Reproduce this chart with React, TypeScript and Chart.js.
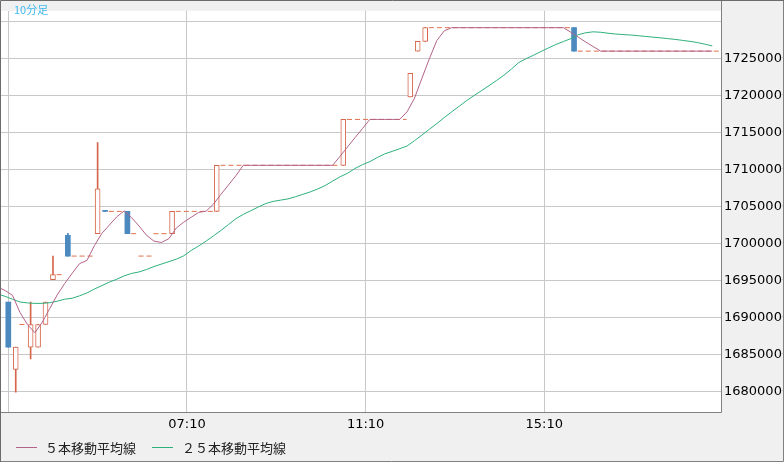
import React, { useEffect, useRef } from 'react';
import { Chart, registerables } from 'chart.js';

Chart.register(...registerables);

// ---------- data (bar index 0 = 03:10, one bar per 10 minutes) ----------
const xTickBars = [0, 24, 48, 72];
const xTickLabels = ['03:10', '07:10', '11:10', '15:10'];
const yTicks = [16800000, 16850000, 16900000, 16950000, 17000000, 17050000, 17100000, 17150000, 17200000, 17250000, 17300000];

// bars that traded
const candleBar = [0, 1, 3, 4, 5, 6, 8, 12, 13, 16, 22, 28, 45, 54, 55, 56, 76];
const candleOpen = [16921400, 16830300, 16860400, 16860400, 16891000, 16951700, 17011500, 17013700, 17045400, 17043800, 17013700, 17043800, 17106100, 17198400, 17260400, 17273600, 17292100];
const candleHigh = [16921400, 16860400, 16921400, 16891000, 16921400, 16983400, 17014100, 17136800, 17045400, 17043800, 17043800, 17106100, 17168100, 17230500, 17273600, 17292100, 17292100];
const candleLow = [16860400, 16799500, 16844300, 16860400, 16891000, 16951700, 16983400, 17013700, 17043800, 17013700, 17013700, 17043800, 17106100, 17198400, 17260400, 17273600, 17260400];
const candleClose = [16860400, 16860400, 16891000, 16891000, 16921400, 16958300, 16983400, 17074400, 17043800, 17013700, 17043800, 17106100, 17168100, 17230500, 17273600, 17292100, 17260400];

// runs of bars without trades (drawn as dashed level lines)
const flatFrom = [2, 7, 9, 14, 17, 18, 20, 23, 29, 46, 57, 77];
const flatTo = [2, 7, 11, 15, 17, 19, 21, 27, 44, 53, 75, 95];
const flatLevel = [16891000, 16958300, 16983400, 17043800, 17013700, 16983400, 17013700, 17043800, 17106100, 17168100, 17292100, 17260400];

// moving averages, bar -1 .. 95
const maStart = -1;
const ma5 = [
  16941600, 16936900, 16930300, 16907300, 16890800, 16879900, 16894100, 16912500, 16931000, 16946200,
  16960000, 16973200, 16977600, 16997600, 17014100, 17025300, 17036500, 17044500, 17035200, 17024000,
  17011500, 17003600, 17001800, 17006900, 17021400, 17029300, 17035900, 17042500, 17044100, 17053700,
  17066900, 17079400, 17092000, 17106100, 17106100, 17106100, 17106100, 17106100, 17106100, 17106100,
  17106100, 17106100, 17106100, 17106100, 17106100, 17106100, 17118300, 17130900, 17143400, 17155700,
  17168100, 17168100, 17168100, 17168100, 17168100, 17178400, 17196800, 17223900, 17250300, 17274700,
  17287900, 17292100, 17292100, 17292100, 17292100, 17292100, 17292100, 17292100, 17292100, 17292100,
  17292100, 17292100, 17292100, 17292100, 17292100, 17292100, 17292100, 17285900, 17279300, 17272700,
  17266600, 17260400, 17260400, 17260400, 17260400, 17260400, 17260400, 17260400, 17260400, 17260400,
  17260400, 17260400, 17260400, 17260400, 17260400, 17260400, 17260400,
];
const ma25 = [
  16932300, 16929000, 16925100, 16921400, 16920100, 16919500, 16919500, 16920400, 16922400, 16925100,
  16926400, 16929700, 16933600, 16938900, 16943500, 16948200, 16952100, 16956700, 16960000, 16962000,
  16965300, 16969300, 16972600, 16975900, 16979200, 16983800, 16991000, 16997000, 17003600, 17010800,
  17018100, 17026000, 17033900, 17039800, 17044700, 17049700, 17054400, 17057300, 17059000, 17060700,
  17063600, 17066900, 17070200, 17074100, 17078800, 17084700, 17090600, 17095300, 17101800, 17106900,
  17111100, 17116600, 17121500, 17124900, 17128500, 17132200, 17139400, 17147000, 17154900, 17162500,
  17170700, 17178400, 17185900, 17193500, 17200400, 17207000, 17213700, 17220600, 17227800, 17236000,
  17245000, 17250300, 17254900, 17259900, 17264800, 17269400, 17273400, 17277300, 17282600, 17285200,
  17286500, 17285900, 17284600, 17283500, 17282800, 17282200, 17281300, 17280300, 17279300, 17278400,
  17277300, 17276300, 17274900, 17273600, 17272000, 17269800, 17267400,
];

// ---------- styling ----------
const X_MIN = -0.98;
const X_MAX = 95.74;
const Y_MIN = 16772700;
const Y_MAX = 17314900;
const MA_SHIFT = -0.43;
const RED = '#d6664b';
const DASH = '#e0714f';
const BLUE = '#4b89bf';
const PURPLE = '#b3638a';
const GREEN = '#2eb07c';
const GRID = '#c8c8c8';
const TICK_FONT = { family: 'DejaVu Sans', size: 13 };

const framePlugin = {
  id: 'frame',
  beforeDraw(chart: any) {
    const { ctx, chartArea: a, width, height } = chart;
    ctx.save();
    ctx.fillStyle = '#f0f0f0';
    ctx.fillRect(0, 0, width, height);
    ctx.fillStyle = '#ffffff';
    ctx.fillRect(a.left, a.top, a.right - a.left, a.bottom - a.top);
    ctx.restore();
  },
  afterDraw(chart: any) {
    const { ctx, chartArea: a, width, height } = chart;
    ctx.save();
    ctx.lineWidth = 1;
    ctx.strokeStyle = '#808080';
    ctx.beginPath();
    ctx.moveTo(a.right + 0.5, 0);
    ctx.lineTo(a.right + 0.5, a.bottom + 0.5);
    ctx.lineTo(0, a.bottom + 0.5);
    ctx.moveTo(width - 0.5, 0);
    ctx.lineTo(width - 0.5, height - 0.5);
    ctx.lineTo(0, height - 0.5);
    ctx.stroke();
    ctx.strokeStyle = '#6c6c6c';
    ctx.beginPath();
    ctx.moveTo(0.5, height);
    ctx.lineTo(0.5, 0.5);
    ctx.lineTo(width, 0.5);
    ctx.stroke();
    ctx.restore();
  },
};

export default function App() {
  const ref = useRef<HTMLCanvasElement>(null);

  useEffect(() => {
    document.body.style.margin = '0';
    const canvas = ref.current;
    if (!canvas) return;

    const isUp = candleBar.map((_, k) => candleClose[k] >= candleOpen[k]);
    const bodies = candleBar.map((b, k) => ({ x: b, y: [candleOpen[k], candleClose[k]] }));
    const wicks = candleBar.map((b, k) => ({ x: b, y: [candleLow[k], candleHigh[k]] }));

    const flats: any[] = [];
    flatFrom.forEach((f, k) => {
      flats.push({ x: f - 0.5, y: flatLevel[k] });
      flats.push({ x: flatTo[k] + 0.5, y: flatLevel[k] });
      flats.push({ x: flatTo[k] + 0.5, y: null });
    });

    const ma5Pts = ma5.map((v, k) => ({ x: maStart + k + MA_SHIFT, y: v }));
    const ma25Pts = ma25.map((v, k) => ({ x: maStart + k + MA_SHIFT, y: v }));

    const chart = new Chart(canvas, {
      type: 'bar',
      data: {
        datasets: [
          {
            type: 'line',
            label: '５本移動平均線',
            data: ma5Pts as any,
            borderColor: PURPLE,
            borderWidth: 1,
            pointRadius: 0,
            tension: 0,
            fill: false,
            order: 0,
          },
          {
            type: 'line',
            label: '２５本移動平均線',
            data: ma25Pts as any,
            borderColor: GREEN,
            borderWidth: 1,
            pointRadius: 0,
            tension: 0,
            fill: false,
            order: 1,
          },
          {
            type: 'bar',
            label: 'body',
            data: bodies as any,
            backgroundColor: isUp.map((u) => (u ? '#ffffff' : BLUE)),
            borderColor: isUp.map((u) => (u ? RED : BLUE)),
            borderWidth: isUp.map((u) => (u ? 1 : 0)),
            borderSkipped: false,
            barThickness: 5,
            grouped: false,
            order: 2,
          } as any,
          {
            type: 'bar',
            label: 'wick',
            data: wicks as any,
            backgroundColor: isUp.map((u) => (u ? RED : BLUE)),
            borderWidth: 0,
            barThickness: 1,
            grouped: false,
            order: 3,
          } as any,
          {
            type: 'line',
            label: 'flat',
            data: flats,
            borderColor: DASH,
            borderWidth: 1,
            borderDash: [5, 3],
            pointRadius: 0,
            tension: 0,
            spanGaps: false,
            fill: false,
            order: 4,
          },
        ],
      },
      options: {
        responsive: false,
        animation: false,
        events: [],
        layout: { padding: { left: 1, top: 1, right: 0, bottom: 0 } },
        plugins: {
          legend: { display: false },
          tooltip: { enabled: false },
        },
        scales: {
          x: {
            type: 'linear',
            position: 'bottom',
            min: X_MIN,
            max: X_MAX,
            offset: false,
            grid: { color: GRID, lineWidth: 1, drawTicks: false, offset: false },
            border: { display: false },
            ticks: {
              autoSkip: false,
              maxRotation: 0,
              minRotation: 0,
              padding: 5,
              color: '#000000',
              font: TICK_FONT,
              // the first label (03:10) sits on the left edge and is not shown
              callback: (v: any) => {
                const k = xTickBars.indexOf(Number(v));
                return k > 0 ? xTickLabels[k] : '';
              },
            },
            afterBuildTicks: (s: any) => {
              s.ticks = xTickBars.map((v) => ({ value: v }));
            },
            afterFit: (s: any) => {
              s.height = 50;
            },
          },
          y: {
            type: 'linear',
            position: 'right',
            min: Y_MIN,
            max: Y_MAX,
            grid: { color: GRID, lineWidth: 1, drawTicks: false },
            border: { display: false },
            ticks: {
              padding: 3,
              color: '#000000',
              font: TICK_FONT,
              callback: (v: any) => (Number(v) === yTicks[yTicks.length - 1] ? '' : String(v)),
            },
            afterBuildTicks: (s: any) => {
              s.ticks = yTicks.map((v) => ({ value: v }));
            },
            afterFit: (s: any) => {
              s.width = 63;
            },
          },
        },
      } as any,
      plugins: [framePlugin],
    });

    return () => chart.destroy();
  }, []);

  const legendText: React.CSSProperties = {
    position: 'absolute',
    top: 441,
    font: '13px "Noto Sans CJK JP"',
    lineHeight: '13px',
    color: '#222222',
    whiteSpace: 'nowrap',
  };

  return (
    <div style={{ position: 'relative', width: 784, height: 462, overflow: 'hidden' }}>
      <canvas ref={ref} width={784} height={462} style={{ display: 'block', width: 784, height: 462 }} />
      <div
        style={{
          position: 'absolute',
          left: 14,
          top: 3,
          font: '11px "Noto Sans CJK JP"',
          lineHeight: '12px',
          color: '#3fb9ee',
          whiteSpace: 'nowrap',
        }}
      >
        10分足
      </div>
      <div style={{ position: 'absolute', left: 16, top: 447, width: 21, height: 1, background: PURPLE }} />
      <div style={{ ...legendText, left: 45 }}>５本移動平均線</div>
      <div style={{ position: 'absolute', left: 152, top: 447, width: 21, height: 1, background: GREEN }} />
      <div style={{ ...legendText, left: 182 }}>２５本移動平均線</div>
    </div>
  );
}
